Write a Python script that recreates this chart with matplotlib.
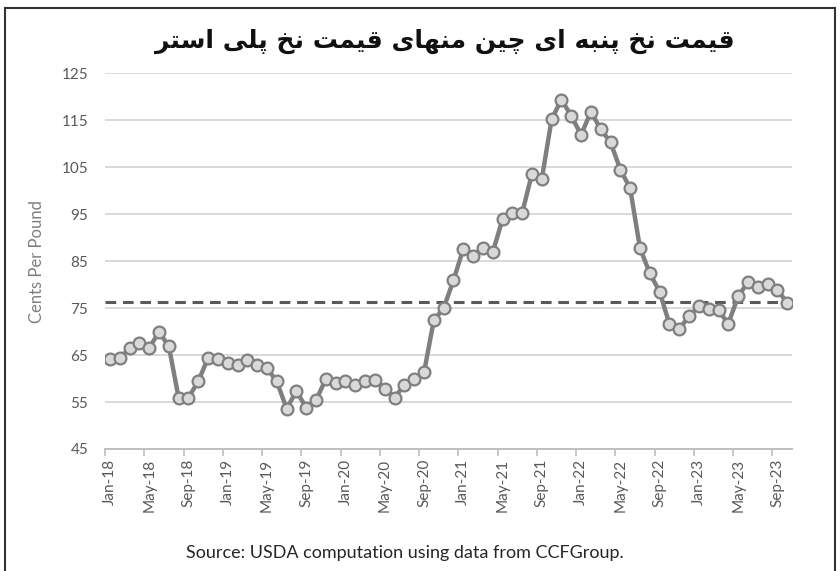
import matplotlib
matplotlib.use("Agg")
import matplotlib.pyplot as plt
from matplotlib.patches import Rectangle

# monthly yarn price spread, Jan-18 .. Oct-23 (cents per pound)
months = ["Jan", "Feb", "Mar", "Apr", "May", "Jun",
          "Jul", "Aug", "Sep", "Oct", "Nov", "Dec"]
labels = [m + "-" + str(y) for y in range(18, 24) for m in months][:70]

spread = [64.1, 64.4, 66.4, 67.5, 66.5, 69.9, 66.9, 55.9, 55.9, 59.4, 64.4, 64.1,
          63.3, 62.9, 63.9, 62.9, 62.2, 59.4, 53.6, 57.3, 53.8, 55.4, 59.9, 59.1,
          59.4, 58.7, 59.4, 59.6, 57.8, 55.9, 58.7, 59.9, 61.3, 72.4, 75.0, 80.9,
          87.6, 86.0, 87.8, 86.9, 93.9, 95.2, 95.3, 103.6, 102.5, 115.2, 119.4, 115.9,
          111.9, 116.8, 113.1, 110.3, 104.5, 100.5, 87.8, 82.4, 78.5, 71.6, 70.5, 73.3,
          75.4, 74.7, 74.5, 71.7, 77.5, 80.5, 79.4, 80.1, 78.9, 76.1]
average = 76.2

title_fa = "قیمت نخ پنبه ای چین منهای قیمت نخ پلی استر"
source = "Source: USDA computation using data from CCFGroup."

# tiny arabic shaper: char -> (isolated, final, initial, medial)
forms = {
    "ا": ("\uFE8D", "\uFE8E", None, None),
    "ر": ("\uFEAD", "\uFEAE", None, None),
    "ب": ("\uFE8F", "\uFE90", "\uFE91", "\uFE92"),
    "پ": ("\uFB56", "\uFB57", "\uFB58", "\uFB59"),
    "ت": ("\uFE95", "\uFE96", "\uFE97", "\uFE98"),
    "چ": ("\uFB7A", "\uFB7B", "\uFB7C", "\uFB7D"),
    "خ": ("\uFEA5", "\uFEA6", "\uFEA7", "\uFEA8"),
    "س": ("\uFEB1", "\uFEB2", "\uFEB3", "\uFEB4"),
    "ق": ("\uFED5", "\uFED6", "\uFED7", "\uFED8"),
    "ل": ("\uFEDD", "\uFEDE", "\uFEDF", "\uFEE0"),
    "م": ("\uFEE1", "\uFEE2", "\uFEE3", "\uFEE4"),
    "ن": ("\uFEE5", "\uFEE6", "\uFEE7", "\uFEE8"),
    "ه": ("\uFEE9", "\uFEEA", "\uFEEB", "\uFEEC"),
    "ی": ("\uFBFC", "\uFBFD", "\uFBFE", "\uFBFF"),
}


def shape(text):
    out = []
    for i, c in enumerate(text):
        if c not in forms:
            out.append(c)
            continue
        prev = text[i - 1] if i > 0 else " "
        nxt = text[i + 1] if i < len(text) - 1 else " "
        joins_prev = prev in forms and forms[prev][2] is not None
        joins_next = nxt in forms and forms[c][2] is not None
        iso, fin, ini, med = forms[c]
        if joins_prev and joins_next:
            out.append(med)
        elif joins_prev:
            out.append(fin)
        elif joins_next:
            out.append(ini)
        else:
            out.append(iso)
    return "".join(out)[::-1]


plt.rcParams["font.family"] = ["Lato", "DejaVu Sans"]

fig = plt.figure(figsize=(8.4, 5.71), dpi=100)
ax = fig.add_axes([0.125, 0.2137, 0.818, 0.658])

x = list(range(len(spread)))
ax.plot(x, spread, color="#7f7f7f", lw=3.2, marker="o", ms=8.5,
        mfc="#d9d9d9", mec="#7f7f7f", mew=1.6, zorder=3)
ax.axhline(average, color="#595959", lw=2.2, ls=(0, (3.5, 2.2)), zorder=2)

ax.set_xlim(-0.5, len(spread) - 0.5)
ax.set_ylim(45, 125)
ax.set_yticks(range(45, 126, 10))
ax.grid(axis="y", color="#d9d9d9", lw=1.4)
ax.set_axisbelow(True)

ax.set_xticks(x[::4])
ax.set_xticklabels(labels[::4], rotation=90)
ax.set_xticks([i - 0.5 for i in x[::4]], minor=True)
ax.tick_params(axis="x", which="major", length=0, pad=7,
               labelsize=11, labelcolor="#595959")
ax.tick_params(axis="x", which="minor", length=5, width=1.2, color="#bfbfbf")
ax.tick_params(axis="y", length=0, pad=12, labelsize=11, labelcolor="#595959")

for s in ["left", "right", "top"]:
    ax.spines[s].set_visible(False)
ax.spines["bottom"].set_color("#bfbfbf")
ax.spines["bottom"].set_linewidth(1.4)

ax.set_ylabel("Cents Per Pound", fontsize=12, color="#7f7f7f", labelpad=12)

fig.text(0.53, 0.928, shape(title_fa), ha="center", va="center",
         fontsize=18, fontweight="bold", family=["DejaVu Sans"], color="#111111")
fig.text(0.482, 0.032, source, ha="center", va="center",
         fontsize=13, color="#262626")

fig.patches.append(Rectangle((0.006, -0.05), 0.988, 1.036, transform=fig.transFigure,
                             fill=False, ec="#333333", lw=1.5))

fig.savefig("out.png", dpi=100)
